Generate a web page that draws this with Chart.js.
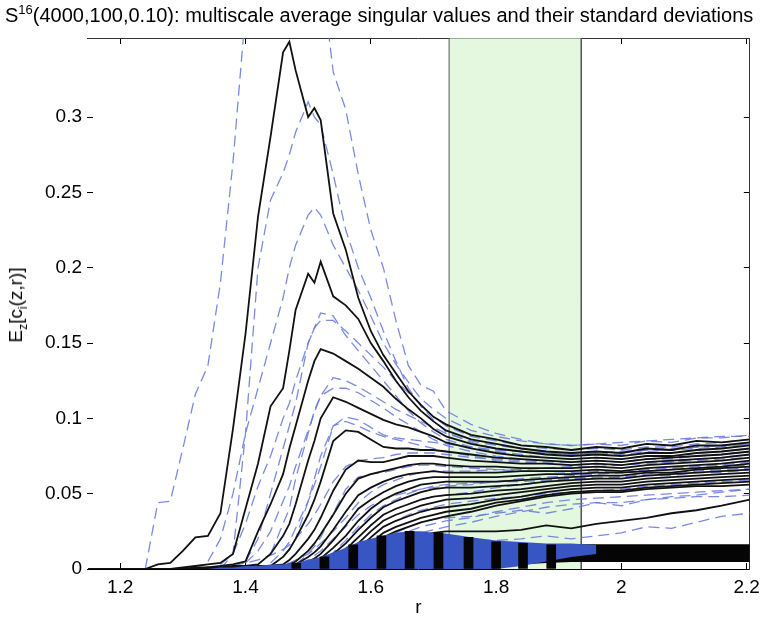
<!DOCTYPE html>
<html><head><meta charset="utf-8">
<script src="https://cdn.jsdelivr.net/npm/chart.js@4/dist/chart.umd.min.js"></script>
<style>
html,body{margin:0;padding:0;background:#fff;}
#wrap{position:relative;width:773px;height:628px;overflow:hidden;}
canvas{position:absolute;left:0;top:0;}
#title{position:absolute;left:5px;top:4px;font:20px "Liberation Sans",Arial,sans-serif;color:#000;white-space:nowrap;}
#title sup{font-size:13px;vertical-align:0;position:relative;top:-8px;}
#ylab{position:absolute;left:16px;top:305px;transform:translate(-50%,-50%) rotate(-90deg);font:19px "Liberation Sans",Arial,sans-serif;color:#000;white-space:nowrap;}
#ylab sub{font-size:12px;vertical-align:0;position:relative;top:5px;}
</style></head>
<body>
<div id="wrap">
<canvas id="c" width="773" height="628"></canvas>
<div id="title">S<sup>16</sup>(4000,100,0.10): multiscale average singular values and their standard deviations</div>
<div id="ylab">E<sub>z</sub>[c<sub>i</sub>(z,r)]</div>
</div>
<script>
const N = null;
// scale r (shared sampling grid)
const r = [1.15,1.20,1.24,1.26,1.28,1.30,1.32,1.34,1.36,1.38,1.40,1.42,1.44,1.46,1.47,1.48,1.50,1.51,1.52,1.54,1.56,1.58,1.60,1.62,1.64,1.66,1.68,1.70,1.72,1.76,1.80,1.84,1.88,1.92,1.96,2.00,2.04,2.08,2.12,2.16,2.205];

// average singular values (solid black)
const m1 = [0,0,0,0.003,0.004,0.012,0.021,0.022,0.037,0.093,0.156,0.234,0.287,0.343,0.350,0.331,0.300,0.306,0.298,0.236,0.212,0.180,0.158,0.142,0.130,0.118,0.109,0.101,0.096,0.089,0.086,0.082,0.081,0.079,0.081,0.080,0.083,0.082,0.085,0.084,0.086];
const m2 = [0,0,0,0,0,0.001,0.002,0.003,0.004,0.010,0.040,0.070,0.108,0.120,0.145,0.172,0.196,0.190,0.204,0.181,0.175,0.166,0.150,0.138,0.125,0.114,0.105,0.098,0.092,0.086,0.083,0.080,0.078,0.077,0.078,0.077,0.080,0.079,0.082,0.082,0.084];
const m3 = [0,0,0,0,0,0,0.001,0.001,0.002,0.003,0.005,0.025,0.043,0.063,0.080,0.095,0.125,0.138,0.146,0.143,0.138,0.133,0.127,0.121,0.113,0.106,0.100,0.093,0.088,0.083,0.080,0.078,0.076,0.075,0.076,0.075,0.077,0.077,0.079,0.080,0.082];
const m4 = [0,0,0,0,0,0,0,0.001,0.001,0.002,0.002,0.003,0.010,0.022,0.030,0.043,0.072,0.085,0.100,0.114,0.111,0.107,0.103,0.099,0.096,0.094,0.091,0.088,0.084,0.080,0.077,0.075,0.074,0.073,0.074,0.073,0.075,0.075,0.077,0.078,0.080];
const m5 = [0,0,0,0,0,0,0,0,0.001,0.001,0.001,0.002,0.002,0.008,0.013,0.020,0.036,0.046,0.058,0.085,0.092,0.091,0.086,0.081,0.080,0.080,0.079,0.079,0.078,0.076,0.074,0.073,0.072,0.071,0.072,0.071,0.073,0.074,0.075,0.076,0.078];
const m6 = [0,0,0,0,0,0,0,0,0,0.001,0.001,0.001,0.002,0.003,0.006,0.010,0.020,0.026,0.034,0.052,0.066,0.072,0.071,0.071,0.073,0.075,0.075,0.075,0.074,0.072,0.071,0.070,0.070,0.069,0.070,0.069,0.071,0.072,0.073,0.074,0.076];
const m7 = [0,0,0,0,0,0,0,0,0,0,0.001,0.001,0.001,0.002,0.003,0.005,0.012,0.017,0.023,0.036,0.050,0.060,0.063,0.065,0.067,0.069,0.070,0.070,0.069,0.068,0.068,0.067,0.067,0.067,0.068,0.067,0.069,0.070,0.071,0.072,0.074];
const m8 = [0,0,0,0,0,0,0,0,0,0,0,0.001,0.001,0.001,0.002,0.003,0.008,0.011,0.015,0.026,0.038,0.049,0.054,0.058,0.061,0.063,0.064,0.065,0.064,0.064,0.064,0.065,0.065,0.065,0.066,0.065,0.067,0.068,0.069,0.070,0.072];
const m9 = [0,0,0,0,0,0,0,0,0,0,0,0,0.001,0.001,0.001,0.002,0.005,0.007,0.010,0.019,0.029,0.040,0.046,0.051,0.055,0.058,0.060,0.061,0.061,0.061,0.061,0.062,0.063,0.063,0.064,0.064,0.065,0.066,0.067,0.068,0.070];
const m10 = [0,0,0,0,0,0,0,0,0,0,0,0,0,0.001,0.001,0.001,0.003,0.005,0.007,0.014,0.022,0.032,0.040,0.046,0.050,0.053,0.056,0.057,0.058,0.058,0.058,0.059,0.060,0.061,0.062,0.062,0.064,0.064,0.066,0.067,0.068];
const m11 = [0,0,0,0,0,0,0,0,0,0,0,0,0,0,0.001,0.001,0.002,0.003,0.005,0.010,0.017,0.026,0.034,0.041,0.045,0.048,0.051,0.053,0.054,0.054,0.055,0.056,0.058,0.059,0.060,0.060,0.062,0.063,0.064,0.065,0.066];
const m12 = [0,0,0,0,0,0,0,0,0,0,0,0,0,0,0,0.001,0.001,0.002,0.003,0.007,0.013,0.021,0.029,0.036,0.040,0.043,0.046,0.048,0.049,0.050,0.052,0.053,0.055,0.057,0.058,0.058,0.060,0.061,0.062,0.063,0.064];
const m13 = [0,0,0,0,0,0,0,0,0,0,0,0,0,0,0,0,0.001,0.001,0.002,0.005,0.010,0.017,0.025,0.032,0.036,0.039,0.042,0.044,0.046,0.047,0.049,0.051,0.053,0.055,0.056,0.056,0.058,0.059,0.060,0.061,0.062];
const m14 = [0,0,0,0,0,0,0,0,0,0,0,0,0,0,0,0,0.001,0.001,0.001,0.003,0.007,0.013,0.021,0.028,0.032,0.035,0.038,0.040,0.041,0.043,0.046,0.048,0.051,0.053,0.054,0.054,0.056,0.057,0.058,0.059,0.060];
const m15 = [0,0,0,0,0,0,0,0,0,0,0,0,0,0,0,0,0,0.001,0.001,0.002,0.005,0.010,0.017,0.024,0.028,0.031,0.034,0.036,0.038,0.040,0.044,0.046,0.049,0.051,0.052,0.052,0.054,0.055,0.056,0.057,0.058];
const m16 = [0,0,0,0,0,0,0,0,0,0,0,0,0,0,0,0,0,0,0.001,0.001,0.003,0.007,0.014,0.021,0.025,0.028,0.031,0.033,0.035,0.038,0.042,0.045,0.048,0.050,0.051,0.051,0.053,0.054,0.055,0.055,0.056];
const m17 = [0,0,0,0,0,0,0,0,0,0,0,0,0,0,0,0,0,0,0,0.001,0.002,0.004,0.008,0.012,0.016,0.019,0.022,0.024,0.025,0.025,0.025,0.026,0.029,0.027,0.030,0.032,0.034,0.037,0.039,0.042,0.046];

// mean +/- standard deviation (dashed blue)
const u1 = [N,N,0,0.044,0.045,0.080,0.116,0.135,0.190,0.270,0.370,0.450,0.480,0.500,0.500,0.480,0.450,0.420,0.400,0.330,0.305,0.262,0.225,0.200,0.165,0.135,0.122,0.118,0.105,0.096,0.090,0.086,0.083,0.082,0.083,0.084,0.085,0.086,0.087,0.088,0.088];
const l1 = [N,N,N,N,N,N,N,N,0,0.010,0.090,0.200,0.245,0.263,0.275,0.290,0.310,0.300,0.295,0.262,0.225,0.200,0.180,0.158,0.138,0.120,0.108,0.099,0.091,0.084,0.080,0.078,0.077,0.076,0.077,0.078,0.079,0.080,0.081,0.082,0.083];
const u2 = [N,N,N,N,N,N,N,0.005,0.020,0.050,0.090,0.120,0.150,0.180,0.200,0.215,0.235,0.240,0.235,0.215,0.200,0.185,0.168,0.150,0.136,0.124,0.113,0.106,0.100,0.092,0.088,0.085,0.083,0.082,0.083,0.082,0.085,0.084,0.087,0.087,0.089];
const l2 = [N,N,N,N,N,N,N,N,N,N,0.005,0.020,0.050,0.080,0.095,0.110,0.150,0.160,0.170,0.168,0.155,0.145,0.135,0.125,0.115,0.105,0.097,0.091,0.086,0.081,0.078,0.076,0.074,0.073,0.074,0.073,0.075,0.075,0.077,0.078,0.080];
const u3 = [N,N,N,N,N,N,N,N,0.003,0.010,0.030,0.055,0.075,0.100,0.110,0.125,0.150,0.160,0.165,0.165,0.158,0.150,0.142,0.134,0.125,0.117,0.109,0.101,0.095,0.088,0.085,0.082,0.080,0.079,0.080,0.079,0.081,0.081,0.083,0.084,0.086];
const l3 = [N,N,N,N,N,N,N,N,N,N,N,N,0.010,0.030,0.040,0.060,0.090,0.105,0.115,0.120,0.120,0.117,0.112,0.107,0.101,0.096,0.091,0.086,0.082,0.078,0.075,0.073,0.072,0.071,0.072,0.071,0.073,0.073,0.075,0.076,0.078];
const u4 = [N,N,N,N,N,N,N,N,N,N,0.004,0.012,0.025,0.045,0.055,0.068,0.092,0.104,0.115,0.127,0.125,0.121,0.116,0.111,0.106,0.102,0.098,0.094,0.090,0.085,0.082,0.080,0.078,0.077,0.078,0.077,0.079,0.079,0.081,0.082,0.084];
const l4 = [N,N,N,N,N,N,N,N,N,N,N,N,N,0.008,0.013,0.020,0.045,0.060,0.075,0.095,0.098,0.095,0.091,0.088,0.086,0.084,0.082,0.080,0.078,0.075,0.072,0.071,0.070,0.069,0.070,0.069,0.071,0.071,0.073,0.074,0.076];
const u5 = [N,N,N,N,N,N,N,N,N,N,N,N,0.004,0.012,0.018,0.027,0.045,0.056,0.068,0.095,0.101,0.099,0.094,0.089,0.087,0.086,0.085,0.084,0.083,0.081,0.079,0.078,0.077,0.076,0.077,0.076,0.078,0.079,0.080,0.081,0.083];
const l6 = [N,N,N,N,N,N,N,N,N,N,N,N,N,N,N,0.003,0.010,0.015,0.021,0.037,0.053,0.061,0.063,0.064,0.066,0.068,0.069,0.069,0.068,0.067,0.066,0.065,0.065,0.064,0.065,0.064,0.066,0.067,0.068,0.069,0.071];
const u7 = [N,N,N,N,N,N,N,N,N,0.002,0.004,0.006,0.009,0.013,0.016,0.020,0.030,0.036,0.043,0.058,0.068,0.072,0.073,0.074,0.076,0.077,0.077,0.077,0.076,0.074,0.073,0.072,0.071,0.071,0.072,0.071,0.073,0.074,0.075,0.076,0.078];
const l9 = [N,N,N,N,N,N,N,N,N,N,N,N,N,N,N,0.001,0.002,0.003,0.005,0.011,0.019,0.028,0.036,0.042,0.046,0.050,0.053,0.055,0.056,0.057,0.058,0.058,0.059,0.060,0.060,0.061,0.062,0.062,0.064,0.064,0.066];
const u10 = [N,N,N,N,N,N,N,N,N,N,N,N,0.002,0.003,0.004,0.006,0.010,0.013,0.017,0.025,0.034,0.044,0.051,0.056,0.059,0.062,0.064,0.065,0.065,0.065,0.066,0.066,0.067,0.068,0.068,0.069,0.070,0.071,0.072,0.073,0.074];
const u12 = [N,N,N,N,N,N,N,N,N,N,N,N,N,0.001,0.002,0.003,0.006,0.009,0.012,0.020,0.028,0.036,0.042,0.046,0.049,0.051,0.053,0.054,0.055,0.056,0.058,0.060,0.061,0.062,0.063,0.064,0.065,0.066,0.067,0.068,0.069];
const l12 = [N,N,N,N,N,N,N,N,N,N,N,N,N,N,N,N,N,0.001,0.002,0.004,0.008,0.014,0.021,0.028,0.032,0.036,0.039,0.041,0.043,0.045,0.047,0.048,0.050,0.051,0.052,0.053,0.055,0.056,0.057,0.058,0.059];
const u14 = [N,N,N,N,N,N,N,N,N,N,N,N,N,N,0.001,0.002,0.004,0.005,0.006,0.009,0.014,0.021,0.029,0.036,0.040,0.043,0.046,0.048,0.049,0.051,0.054,0.056,0.058,0.060,0.061,0.061,0.063,0.064,0.065,0.066,0.067];
const l15 = [N,N,N,N,N,N,N,N,N,N,N,N,N,N,N,N,N,N,N,0.001,0.003,0.006,0.011,0.017,0.021,0.025,0.028,0.030,0.032,0.034,0.038,0.041,0.044,0.046,0.047,0.048,0.049,0.050,0.051,0.052,0.053];
const l16 = [N,N,N,N,N,N,N,N,N,N,N,N,N,N,N,N,N,N,N,N,0.001,0.003,0.008,0.014,0.018,0.021,0.024,0.026,0.028,0.031,0.035,0.038,0.041,0.043,0.044,0.044,0.046,0.047,0.048,0.048,0.049];
const u17 = [N,N,N,N,N,N,N,N,N,N,N,N,N,N,N,N,N,N,N,N,N,N,N,N,0.024,0.028,0.031,0.033,0.034,0.035,0.037,0.039,0.037,0.040,0.044,0.042,0.046,0.048,0.049,0.051,0.053];
const l17 = [N,N,N,N,N,N,N,N,N,N,N,N,N,N,N,N,N,N,N,N,N,N,N,N,N,N,N,N,0.018,0.019,0.019,0.020,0.022,0.020,0.022,0.024,0.028,0.027,0.031,0.035,0.037];

// noise singular values: dense blue region and black band
const noiseLo = [N,N,N,N,N,N,N,0,0,0,0,0,0,0,0,0,0,0,0,0,0,0,0,0,0,0,0,0,0,0,0,0.002,0.005,0.008,0.010,N,N,N,N,N,N];
const noiseHi = [N,N,N,N,N,N,N,0,0.001,0.001,0.002,0.002,0.003,0.003,0.004,0.004,0.006,0.007,0.008,0.011,0.014,0.018,0.020,0.022,0.024,0.025,0.025,0.024,0.0235,0.021,0.019,0.018,0.017,0.017,0.016,N,N,N,N,N,N];
const bandLo = [N,N,N,N,N,N,N,N,N,N,N,N,N,N,N,N,N,N,N,N,N,N,N,N,N,N,N,N,N,N,0.004,0.003,0.004,0.0047,0.0047,0.0047,0.0047,0.0047,0.0047,0.0047,0.0047];
const bandHi = [N,N,N,N,N,N,N,N,N,N,N,N,N,N,N,N,N,N,N,N,N,N,N,N,N,N,N,N,N,N,0.006,0.012,0.015,0.0165,0.0165,0.0165,0.0165,0.0165,0.0165,0.0165,0.0165];
const stripeR = [1.481,1.526,1.572,1.617,1.662,1.708,1.756,1.800,1.843,1.888];
const stripeTop = [0.004,0.008,0.016,0.022,0.025,0.024,0.021,0.018,0.017,0.016];

// shaded interval
const shadeStart = 1.725, shadeEnd = 1.936;

// axes
const rMin = 1.147, rMax = 2.205, yMax = 0.3525;
const xTicks = [1.2,1.4,1.6,1.8,2.0,2.2];
const xTickLabels = ['1.2','1.4','1.6','1.8','2','2.2'];
const yTicks = [0,0.05,0.1,0.15,0.2,0.25,0.3];
const yTickLabels = ['0','0.05','0.1','0.15','0.2','0.25','0.3'];

const pts = a => r.map((x,i) => ({x, y: a[i]}));
const FONT = 'Liberation Sans, Arial, sans-serif';
const dashedColor = 'rgba(100,118,218,0.85)';

const datasets = [];
datasets.push({type:'line', data:[{x:shadeStart,y:0},{x:shadeStart,y:yMax},{x:shadeEnd,y:yMax},{x:shadeEnd,y:0}],
  borderColor:'#555', borderWidth:1, backgroundColor:'#e4f8e0', fill:'origin', order:100, pointRadius:0});
[u1,l1,u2,l2,u3,l3,u4,l4,u5,l6,u7,l9,u10,u12,l12,u14,l15,l16,u17,l17].forEach(a => datasets.push({type:'line', data:pts(a),
  borderColor:dashedColor, borderWidth:1.3, borderDash:[11,6], fill:false, order:50, pointRadius:0}));
[m1,m2,m3,m4,m5,m6,m7,m8,m9,m10,m11,m12,m13,m14,m15,m16,m17].forEach(a => datasets.push({type:'line', data:pts(a),
  borderColor:'#111', borderWidth:1.8, fill:false, order:40, pointRadius:0}));
datasets.push({type:'line', data:pts(bandLo), borderWidth:0, borderColor:'rgba(0,0,0,0)', fill:false, order:30, pointRadius:0});
datasets.push({type:'line', data:pts(bandHi), borderWidth:0, borderColor:'rgba(0,0,0,0)', backgroundColor:'#050505', fill:'-1', order:30, pointRadius:0});
datasets.push({type:'line', data:pts(noiseLo), borderWidth:0, borderColor:'rgba(0,0,0,0)', fill:false, order:20, pointRadius:0});
datasets.push({type:'line', data:pts(noiseHi), borderWidth:0, borderColor:'rgba(0,0,0,0)', backgroundColor:'#3855c4', fill:'-1', order:20, pointRadius:0});
datasets.push({type:'bar', data:stripeR.map((x,i)=>({x, y:stripeTop[i]})), backgroundColor:'#050505', barThickness:9, grouped:false, order:10});

const tickFont = {family: FONT, size: 19};
new Chart(document.getElementById('c'), {
  type:'line',
  data:{datasets},
  options:{
    responsive:false, devicePixelRatio:1, animation:false,
    layout:{padding:{top:38, right:11, left:0, bottom:0}},
    elements:{line:{tension:0}, point:{radius:0}},
    plugins:{legend:{display:false}, tooltip:{enabled:false}},
    scales:{
      x:{type:'linear', position:'bottom', min:rMin, max:rMax, offset:false,
        grid:{drawOnChartArea:false, drawTicks:true, tickLength:-6, color:'#000', offset:false},
        border:{display:true, color:'#000', width:1},
        ticks:{padding:13, color:'#000', font:tickFont, maxRotation:0, autoSkip:false, callback:(v,i)=>xTickLabels[i]},
        afterBuildTicks:s=>{s.ticks = xTicks.map(v=>({value:v}));},
        afterFit:s=>{s.height = 59;},
        title:{display:true, text:'r', color:'#000', font:{family:FONT, size:19}, padding:{top:0, bottom:9}}},
      xTop:{type:'linear', position:'top', min:rMin, max:rMax, offset:false,
        grid:{drawOnChartArea:false, drawTicks:true, tickLength:-6, color:'#000', offset:false},
        border:{display:true, color:'#333', width:1},
        ticks:{display:false},
        afterBuildTicks:s=>{s.ticks = xTicks.map(v=>({value:v}));},
        afterFit:s=>{s.height = 0;}},
      y:{type:'linear', position:'left', min:0, max:yMax,
        grid:{drawOnChartArea:false, drawTicks:true, tickLength:-6, color:'#000'},
        border:{display:false},
        ticks:{padding:11, color:'#000', font:tickFont, callback:(v,i)=>yTickLabels[i]},
        afterBuildTicks:s=>{s.ticks = yTicks.map(v=>({value:v}));},
        afterFit:s=>{s.width = 87;}},
      yRight:{type:'linear', position:'right', min:0, max:yMax,
        grid:{drawOnChartArea:false, drawTicks:true, tickLength:-6, color:'#000'},
        border:{display:true, color:'#333', width:1},
        ticks:{display:false},
        afterBuildTicks:s=>{s.ticks = yTicks.map(v=>({value:v}));},
        afterFit:s=>{s.width = 0;}}
    }
  }
});
</script>
</body></html>
